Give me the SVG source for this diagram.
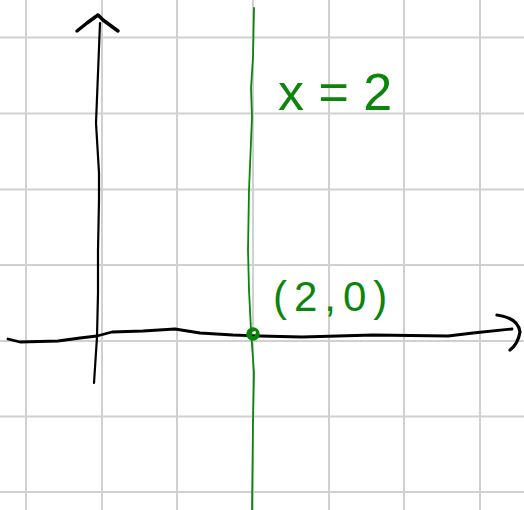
<svg xmlns="http://www.w3.org/2000/svg" width="524" height="510" viewBox="0 0 524 510">
<style>
.grid{stroke:#d0d0d0;stroke-width:2;fill:none}
.ink{stroke:#000;fill:none;stroke-linecap:round;stroke-linejoin:round}
.g{stroke:#0b850b;fill:none;stroke-linecap:round;stroke-linejoin:round}
.lbl{fill:#0b850b;font-family:"Liberation Sans",Arial,sans-serif}
</style>
<rect width="524" height="510" fill="#fff"/>
<g id="grid" class="grid">
<path d="M26 0V510M102 0V510M177 0V510M253 0V510M329 0V510M404 0V510M480 0V510"/>
<path d="M0 37.5H524M0 113.5H524M0 189.5H524M0 265H524M0 341H524M0 416.5H524M0 492H524"/>
</g>
<g id="axes">
<path id="y-axis" class="ink" stroke-width="2.2" d="M94 383 L97 337 L98 293 L98 250 L99 200 L99 173 L96 123 L98 73 L100 23"/>
<path id="y-arrow" class="ink" stroke-width="3.5" d="M77 31 L87 23 L98 15 L103 20 L118 31"/>
<path id="x-axis" class="ink" stroke-width="2.8" d="M8 339 L20 342 L58 341 L80 338 L97 336 L112 332 L143 331 L175 329 L200 333 L233 335 L260 336 L302 337 L373 335 L448 336 L473 333 L512 329"/>
<path id="x-arrow" class="ink" stroke-width="3.2" d="M497 315 Q518 318 520 332 Q518 344 510 350"/>
</g>
<g id="line-x2">
<path class="g" stroke-width="1.8" d="M254 8 L253 57 L251 88 L252 117 L249 190 L248 250 L249 290 L251 330 L254 373 L253 423 L252 510"/>
</g>
<g id="point">
<circle cx="253" cy="334" r="4.5" class="g" stroke-width="4.5"/>
<circle cx="254.5" cy="332.5" r="1.5" fill="#fff"/>
</g>
<g id="labels">
<text class="lbl" x="278" y="110" font-size="52">x = 2</text>
<text class="lbl" x="273" y="311" font-size="42" letter-spacing="7">(2,0)</text>
</g>
</svg>
